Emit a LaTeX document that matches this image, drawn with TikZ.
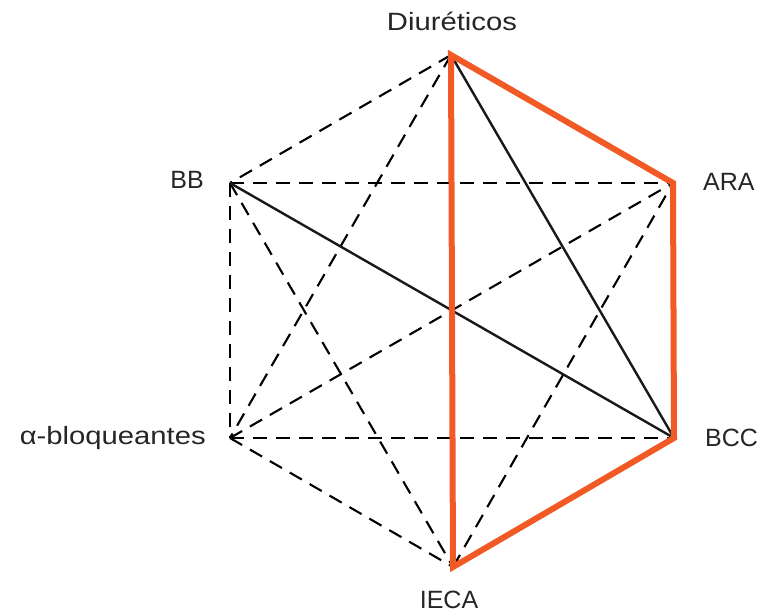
\documentclass[tikz,border=0pt]{standalone}
\usepackage{fontspec}
\setmainfont{Liberation Sans}
\newfontfamily\widefont{Liberation Sans}[FakeStretch=1.17]
\begin{document}
\begin{tikzpicture}[x=1pt,y=-1pt,
  lbl/.style={font=\fontsize{25}{27}\selectfont, text=black!85, inner sep=0pt},
  wlbl/.style={font=\widefont\fontsize{25}{27}\selectfont, text=black!85, inner sep=0pt},
  dline/.style={draw=black, line width=2.1pt, dash pattern=on 14pt off 9pt},
  sline/.style={draw=black!90, line width=2.4pt},
  oline/.style={draw={rgb,255:red,241;green,90;blue,36}, line width=6pt, line join=miter}]
\useasboundingbox (0,0) rectangle (761,612);
\coordinate (D) at (451,55);
\coordinate (R) at (673,183);
\coordinate (C) at (674,438);
\coordinate (I) at (453,567);
\coordinate (A) at (230,438);
\coordinate (B) at (230,183);
% labels
\node[wlbl, anchor=base] (lD) at (452,31) {Diuréticos};
\node[lbl, anchor=west] (lR) at (703,182) {ARA};
\node[lbl, anchor=west] (lC) at (705,438) {BCC};
\node[lbl, anchor=base] (lI) at (449,608) {IECA};
\node[wlbl, anchor=east] (lA) at (206,438) {α-bloqueantes};
\node[lbl, anchor=east] (lB) at (204,180) {BB};
% dashed
\draw[dline] (D) -- (B);
\draw[dline] (D) -- (A);
\draw[dline] (B) -- (R);
\draw[dline] (B) -- (A);
\draw[dline] (B) -- (I);
\draw[dline] (A) -- (R);
\draw[dline] (A) -- (C);
\draw[dline] (A) -- (I);
\draw[dline] (I) -- (R);
% solid black
\draw[sline] (D) -- (C);
\draw[sline] (B) -- (C);
% orange
\draw[oline] (D) -- (R) -- (C) -- (I) -- cycle;
\end{tikzpicture}
\end{document}
